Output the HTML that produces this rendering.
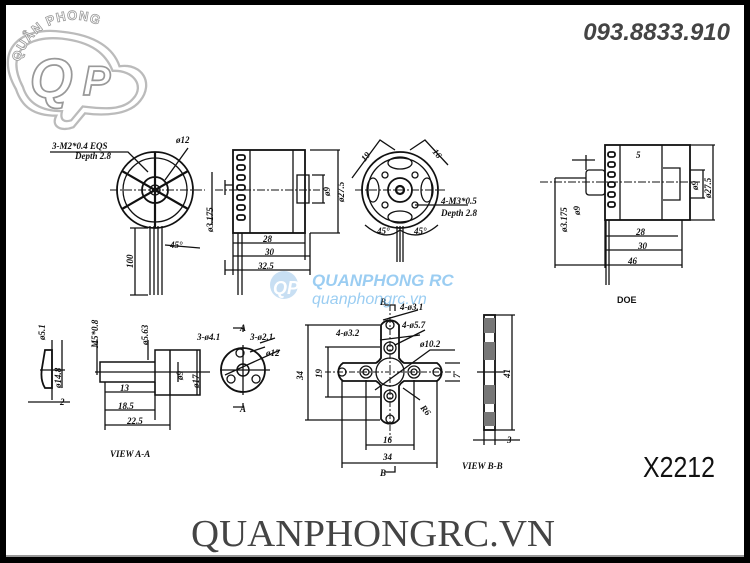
<!DOCTYPE html>
<html><head><meta charset="utf-8"><style>
html,body{margin:0;padding:0;background:#000;}
svg{display:block}
text{font-family:"Liberation Sans",sans-serif;}
.d{font-family:"Liberation Serif",serif;font-style:italic;font-weight:bold;font-size:9px;fill:#111}
</style></head><body>
<svg width="750" height="563" viewBox="0 0 750 563" xmlns="http://www.w3.org/2000/svg">
<defs><path id="arc" d="M20 62 A56 56 0 0 1 125 52"/></defs>
<rect x="0" y="0" width="750" height="563" fill="#000"/>
<rect x="6" y="5" width="738" height="552" fill="#fff"/>
<line x1="6" y1="556" x2="744" y2="556" stroke="#777" stroke-width="1.5"/>

<!-- logo -->
<g transform="translate(-30,-20) scale(1.15)">
<g fill="none" stroke="#bbb" stroke-width="2">
<path d="M40 95 C20 60 45 40 80 45 C110 48 125 60 130 75 C150 72 160 90 148 105 C138 118 115 118 100 116 L90 128 C80 132 70 128 75 118 C55 118 45 110 40 95 Z"/>
<path d="M46 93 C30 62 50 48 80 51 C106 54 118 64 124 79 C142 78 152 92 142 103 C133 114 115 112 98 110 L88 122 C82 124 78 122 80 114 C60 114 50 106 46 93 Z"/>
</g>
<text x="52" y="102" font-size="48" font-style="italic" font-weight="bold" fill="#fff" stroke="#999" stroke-width="1.5">Q</text>
<text x="98" y="100" font-size="36" font-style="italic" font-weight="bold" fill="#fff" stroke="#999" stroke-width="1.5">P</text>
</g>
<text font-size="13" font-weight="bold" fill="#fff" stroke="#999" stroke-width="0.8" letter-spacing="1"><textPath href="#arc">QUÂN PHONG</textPath></text>

<text x="730" y="40" text-anchor="end" font-size="24" font-style="italic" font-weight="bold" fill="#444">093.8833.910</text>

<g stroke="#111" fill="none" stroke-width="1.3">
<!-- front view 1 -->
<circle cx="155" cy="190" r="38" stroke-width="1.8"/>
<circle cx="155" cy="190" r="32"/>
<circle cx="155" cy="190" r="13" stroke-width="1.8"/>
<circle cx="155" cy="190" r="5"/>
<path d="M155 152 L155 228 M122 171 L188 209 M122 209 L188 171" stroke-width="2.2"/>
<line x1="110" y1="190" x2="205" y2="190" stroke-dasharray="8 2 2 2" stroke-width="1"/>
<path d="M150 226 V295 M154 226 V295 M158 226 V295 M162 226 V295"/>
<path d="M50 152 H128 L148 172 M188 148 L165 180 M165 245 L200 248"/>
<path d="M135 228 V295 M130 228 H148 M130 295 H148"/>
<!-- side view 1 -->
<rect x="233" y="150" width="72" height="83" stroke-width="1.8"/>
<line x1="250" y1="150" x2="250" y2="233"/>
<line x1="293" y1="150" x2="293" y2="233"/>
<g stroke-width="1.8"><rect x="237" y="155" width="8" height="5" rx="2"/><rect x="237" y="165" width="8" height="5" rx="2"/><rect x="237" y="175" width="8" height="5" rx="2"/><rect x="237" y="185" width="8" height="5" rx="2"/><rect x="237" y="195" width="8" height="5" rx="2"/><rect x="237" y="205" width="8" height="5" rx="2"/><rect x="237" y="215" width="8" height="5" rx="2"/></g>
<rect x="297" y="175" width="12" height="28"/>
<path d="M225 185 H233 M225 180 V195 M238 233 V295 M242 233 V295"/>
<line x1="215" y1="190" x2="320" y2="190" stroke-dasharray="8 2 2 2" stroke-width="1"/>
<path d="M340 150 H310 M340 233 H310 M338 150 V233 M325 175 H312 M325 203 H312 M323 175 V203"/>
<path d="M233 243 H305 M233 256 H310 M225 270 H310 M233 233 V275 M305 233 V260 M310 233 V275 M225 260 V275"/>
<path d="M212 172 V225"/>
<!-- back view -->
<circle cx="400" cy="190" r="38" stroke-width="1.8"/>
<circle cx="400" cy="190" r="32"/>
<circle cx="400" cy="190" r="12" stroke-width="1.8"/>
<circle cx="400" cy="190" r="4" stroke-width="2.2"/>
<ellipse cx="400" cy="163" rx="12" ry="6"/><ellipse cx="400" cy="217" rx="12" ry="6"/>
<ellipse cx="373" cy="190" rx="6" ry="12"/><ellipse cx="427" cy="190" rx="6" ry="12"/>
<circle cx="385" cy="175" r="3"/><circle cx="415" cy="175" r="3"/><circle cx="385" cy="205" r="3"/><circle cx="415" cy="205" r="3"/>
<line x1="355" y1="190" x2="445" y2="190" stroke-dasharray="8 2 2 2" stroke-width="1"/>
<path d="M352 178 L380 140 L395 150 M410 150 L425 140 L448 165 M415 205 L440 205 H468"/>
<path d="M397 226 V262 M400 226 V262 M403 226 V262"/>
<path d="M365 225 Q385 242 400 230 Q418 242 438 225"/>
<!-- side view 2 -->
<rect x="605" y="145" width="85" height="75" stroke-width="1.8"/>
<line x1="620" y1="145" x2="620" y2="220"/>
<line x1="662" y1="145" x2="662" y2="220"/>
<g stroke-width="1.8"><rect x="608" y="152" width="7" height="5" rx="2"/><rect x="608" y="162" width="7" height="5" rx="2"/><rect x="608" y="172" width="7" height="5" rx="2"/><rect x="608" y="182" width="7" height="5" rx="2"/><rect x="608" y="192" width="7" height="5" rx="2"/><rect x="608" y="202" width="7" height="5" rx="2"/></g>
<rect x="586" y="170" width="19" height="25" rx="3"/>
<path d="M555 178 H586 M555 178 V232 M663 168 H680 V200 H663"/>
<line x1="540" y1="182" x2="700" y2="182" stroke-dasharray="8 2 2 2" stroke-width="1"/>
<path d="M715 145 H690 M715 220 H690 M713 145 V220 M705 170 H690 M705 198 H690 M703 170 V198"/>
<path d="M605 236 H678 M605 250 H682 M555 265 H682 M605 220 V268 M682 220 V268 M555 232 V268 M606 220 V285 M609 220 V285"/>
<path d="M572 160 H595 M586 155 V170"/>
<!-- view A-A left part -->
<path d="M45 350 H52 V388 H45 Q40 380 42 368 Z" stroke-width="1.8"/>
<path d="M40 370 H65 M52 340 V400 M62 340 V388 M28 402 H70"/>
<!-- shaft -->
<path d="M100 362 H155 V382 H100 Z M155 350 H170 V395 H155 Z M160 350 H200 V395 H170" stroke-width="1.5"/>
<path d="M95 372 H210 M105 382 V430 M155 382 V420 M170 395 V430 M105 392 H155 M105 410 H155 M105 425 H170 M197 350 V395 M178 362 V382"/>
<path d="M97 340 V375 M148 340 V360"/>
<!-- A-A flange -->
<circle cx="243" cy="370" r="22" stroke-width="1.8"/>
<circle cx="243" cy="370" r="6" stroke-width="1.5"/>
<circle cx="240" cy="353" r="4"/><circle cx="231" cy="379" r="4"/><circle cx="256" cy="379" r="4"/>
<path d="M220 370 H270 M243 345 V395 M233 328 H243 V332 M233 407 H243 V403 M260 343 L275 338 M250 352 L265 347 M225 375 L280 350"/>
<!-- cross mount -->
<path d="M381 325 A11 11 0 0 1 399 325 V358 A14 14 0 0 0 404 363 H437 A11 11 0 0 1 437 381 H404 A14 14 0 0 0 399 386 V419 A11 11 0 0 1 381 419 V386 A14 14 0 0 0 376 381 H343 A11 11 0 0 1 343 363 H376 A14 14 0 0 0 381 358 Z" stroke-width="1.8"/>
<circle cx="390" cy="372" r="14"/>
<circle cx="390" cy="325" r="4"/><circle cx="390" cy="419" r="4"/><circle cx="342" cy="372" r="4"/><circle cx="437" cy="372" r="4"/>
<circle cx="390" cy="348" r="6"/><circle cx="390" cy="396" r="6"/><circle cx="366" cy="372" r="6"/><circle cx="414" cy="372" r="6"/>
<circle cx="390" cy="348" r="3"/><circle cx="390" cy="396" r="3"/><circle cx="366" cy="372" r="3"/><circle cx="414" cy="372" r="3"/>
<line x1="325" y1="372" x2="455" y2="372" stroke-dasharray="6 2 2 2" stroke-width="1"/>
<line x1="390" y1="305" x2="390" y2="440" stroke-dasharray="6 2 2 2" stroke-width="1"/>
<path d="M305 325 H380 M305 420 H380 M308 325 V420 M325 347 H380 M325 397 H380 M328 347 V397 M366 380 V450 M414 380 V450 M342 380 V468 M437 380 V468 M366 445 H414 M342 463 H437 M445 363 H460 M445 381 H460"/>
<path d="M383 320 L418 310 M395 345 L425 330 M380 340 L420 335 M375 390 L430 350 H455 M403 388 L420 400"/>
<path d="M385 305 H395 V311 M385 472 H395 V466"/>
<!-- view B-B -->
<rect x="484" y="315" width="11" height="115" stroke-width="1.8"/>
<path d="M484 318 H495 V333 H484 Z M484 342 H495 V360 H484 Z M484 385 H495 V404 H484 Z M484 412 H495 V426 H484 Z" fill="#777" stroke="none"/>
<path d="M477 372 H505 M495 315 H515 M495 430 H515 M512 315 V430 M484 430 V445 M495 430 V445 M473 440 H520"/>
</g>

<!-- labels -->
<text class="d" x="52" y="149">3-M2*0.4  EQS</text>
<text class="d" x="75" y="159" font-size="8">Depth  2.8</text>
<text class="d" x="176" y="143">ø12</text>
<text class="d" x="170" y="248" font-size="7">45°</text>
<text class="d" x="133" y="268" transform="rotate(-90 133 268)">100</text>
<text class="d" x="263" y="242">28</text>
<text class="d" x="265" y="255">30</text>
<text class="d" x="258" y="269">32.5</text>
<text class="d" x="213" y="232" transform="rotate(-90 213 232)">ø3.175</text>
<text class="d" x="330" y="196" transform="rotate(-90 330 196)">ø9</text>
<text class="d" x="344" y="202" transform="rotate(-90 344 202)">ø27.5</text>
<text class="d" x="365" y="162" transform="rotate(-50 365 162)">19</text>
<text class="d" x="432" y="152" transform="rotate(50 432 152)">16</text>
<text class="d" x="441" y="204">4-M3*0.5</text>
<text class="d" x="441" y="216" font-size="8">Depth  2.8</text>
<text class="d" x="377" y="234">45°</text>
<text class="d" x="414" y="234">45°</text>
<text class="d" x="636" y="158">5</text>
<text class="d" x="636" y="235">28</text>
<text class="d" x="638" y="249">30</text>
<text class="d" x="628" y="264">46</text>
<text class="d" x="567" y="232" transform="rotate(-90 567 232)">ø3.175</text>
<text class="d" x="580" y="215" transform="rotate(-90 580 215)">ø9</text>
<text class="d" x="698" y="190" transform="rotate(-90 698 190)">ø9</text>
<text class="d" x="711" y="198" transform="rotate(-90 711 198)">ø27.5</text>
<text x="617" y="303" font-size="9" font-weight="bold" fill="#111">DOE</text>

<text class="d" x="45" y="340" transform="rotate(-90 45 340)">ø5.1</text>
<text class="d" x="61" y="388" transform="rotate(-90 61 388)">ø14.8</text>
<text class="d" x="60" y="405">2</text>
<text class="d" x="98" y="348" transform="rotate(-90 98 348)">M5*0.8</text>
<text class="d" x="148" y="345" transform="rotate(-90 148 345)">ø5.63</text>
<text class="d" x="183" y="380" transform="rotate(-90 183 380)">ø9</text>
<text class="d" x="199" y="388" transform="rotate(-90 199 388)">ø17</text>
<text class="d" x="120" y="391">13</text>
<text class="d" x="118" y="409">18.5</text>
<text class="d" x="127" y="424">22.5</text>
<text class="d" x="110" y="457">VIEW  A-A</text>
<text class="d" x="197" y="340">3-ø4.1</text>
<text class="d" x="250" y="340">3-ø2.1</text>
<text class="d" x="266" y="356">ø12</text>
<text class="d" x="240" y="331">A</text>
<text class="d" x="240" y="412">A</text>
<text class="d" x="400" y="310">4-ø3.1</text>
<text class="d" x="402" y="328">4-ø5.7</text>
<text class="d" x="336" y="336">4-ø3.2</text>
<text class="d" x="420" y="347">ø10.2</text>
<text class="d" x="303" y="380" transform="rotate(-90 303 380)">34</text>
<text class="d" x="322" y="378" transform="rotate(-90 322 378)">19</text>
<text class="d" x="460" y="378" transform="rotate(-90 460 378)">7</text>
<text class="d" x="420" y="408" transform="rotate(50 420 408)">R6</text>
<text class="d" x="383" y="443">16</text>
<text class="d" x="383" y="460">34</text>
<text class="d" x="380" y="476">B</text>
<text class="d" x="380" y="305">B</text>
<text class="d" x="510" y="378" transform="rotate(-90 510 378)">41</text>
<text class="d" x="507" y="443">3</text>
<text class="d" x="462" y="469">VIEW  B-B</text>

<!-- watermark -->
<g opacity="0.55">
<circle cx="284" cy="285" r="14" fill="#9cc6ea"/>
<text x="273" y="294" font-size="18" font-style="italic" font-weight="bold" fill="#fff">QP</text>
<text x="312" y="286" font-size="17" font-style="italic" font-weight="bold" fill="#4aa6e8">QUANPHONG RC</text>
<text x="312" y="304" font-size="16" font-style="italic" fill="#4aa6e8">quanphongrc.vn</text>
</g>

<text x="643" y="477" font-size="29" fill="#111" textLength="72" lengthAdjust="spacingAndGlyphs">X2212</text>
<text x="191" y="546" font-size="38" fill="#444" textLength="364" lengthAdjust="spacingAndGlyphs" style="font-family:'Liberation Serif',serif">QUANPHONGRC.VN</text>
</svg>
</body></html>
